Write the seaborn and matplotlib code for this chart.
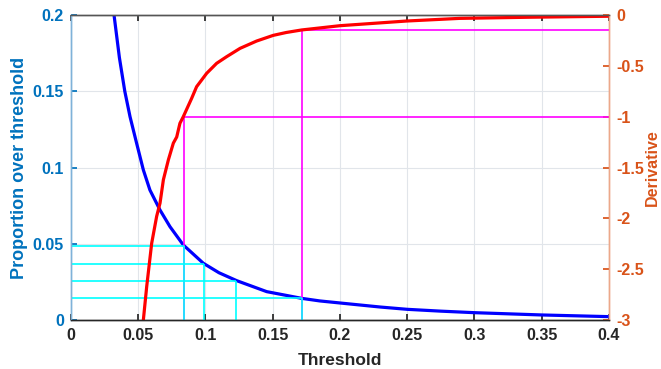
import matplotlib
matplotlib.use("Agg")
import matplotlib.pyplot as plt
import numpy as np
import seaborn as sns

# proportion of samples over the threshold (left axis)
thr_prop = [0.030, 0.032, 0.036, 0.040, 0.0439, 0.0488, 0.0538, 0.0587, 0.0662, 0.0736,
            0.0835, 0.0984, 0.110, 0.1232, 0.1455, 0.1715, 0.185, 0.2074, 0.230, 0.250,
            0.275, 0.300, 0.350, 0.400]
prop = [0.220, 0.200, 0.172, 0.150, 0.1333, 0.1159, 0.0984, 0.0852, 0.0721, 0.0612,
        0.0492, 0.0372, 0.0310, 0.0258, 0.0186, 0.0142, 0.0125, 0.0105, 0.0085, 0.0070,
        0.0058, 0.0048, 0.0033, 0.0022]

# derivative of the curve (right axis)
thr_deriv = [0.0538, 0.0563, 0.0600, 0.0637, 0.0662, 0.0687, 0.0724, 0.0761, 0.0786, 0.0810,
             0.0835, 0.0897, 0.0934, 0.1009, 0.1083, 0.1157, 0.1257, 0.1380, 0.1504, 0.1600,
             0.1715, 0.200, 0.2496, 0.289, 0.340, 0.400]
deriv = [-3.0, -2.67, -2.245, -1.98, -1.85, -1.62, -1.425, -1.26, -1.20, -1.065,
         -1.0, -0.82, -0.705, -0.573, -0.475, -0.41, -0.328, -0.256, -0.200, -0.172,
         -0.147, -0.105, -0.059, -0.033, -0.022, -0.012]

# marked thresholds
cyan_thr = [0.084, 0.099, 0.123, 0.172]
cyan_val = [0.0485, 0.037, 0.0256, 0.0142]
mag_thr = [0.084, 0.172]
mag_val = [-1.0, -0.147]

x_ticks = [0, 0.05, 0.1, 0.15, 0.2, 0.25, 0.3, 0.35, 0.4]
left_ticks = [0, 0.05, 0.1, 0.15, 0.2]
right_ticks = [-3, -2.5, -2, -1.5, -1, -0.5, 0]

sns.set_theme(style="ticks")
plt.rcParams['font.family'] = ['Liberation Sans', 'DejaVu Sans']
plt.rcParams['axes.unicode_minus'] = False

blue_c = '#0072BD'
orange_c = '#D95319'
dark = '#262626'

fig = plt.figure(figsize=(6.61, 3.69), dpi=100)
ax = fig.add_axes([0.1074, 0.1328, 0.8139, 0.8265])
ax2 = ax.twinx()

# left axis: proportion curve
sns.lineplot(x=thr_prop, y=prop, ax=ax, color='#0000FF', lw=2.3, estimator=None, sort=False)
ax.set_xlim(0, 0.4)
ax.set_ylim(0, 0.2)
ax.set_xticks(x_ticks)
ax.set_xticklabels(['%g' % v for v in x_ticks])
ax.set_yticks(left_ticks)
ax.set_yticklabels(['%g' % v for v in left_ticks])
ax.grid(True, color='#e1e5ea', lw=0.8)
ax.tick_params(axis='x', direction='in', length=4, colors=dark, labelsize=11.5, top=True, pad=6)
ax.tick_params(axis='y', direction='in', length=4, colors=blue_c, labelsize=11.5, pad=5)
for lab in ax.get_xticklabels() + ax.get_yticklabels():
    lab.set_fontweight('bold')
ax.set_xlabel('Threshold', fontsize=12.5, fontweight='bold', color=dark, labelpad=7)
ax.set_ylabel('Proportion over threshold', fontsize=13, fontweight='bold', color=blue_c)
ax.yaxis.set_label_coords(-0.080, 0.5)

# right axis: magenta markers, cyan markers (left-axis data), derivative curve
ax2.hlines(mag_val, mag_thr, 0.4, color='#FF00FF', lw=1.2)
ax2.vlines(mag_thr, -3, mag_val, color='#FF00FF', lw=1.2)
ax2.hlines(cyan_val, 0, cyan_thr, color='#00FFFF', lw=1.2, transform=ax.transData)
ax2.vlines(cyan_thr, 0, cyan_val, color='#00FFFF', lw=1.2, transform=ax.transData)
sns.lineplot(x=thr_deriv, y=deriv, ax=ax2, color='#FF0000', lw=2.3, estimator=None, sort=False)
ax2.set_ylim(-3, 0)
ax2.set_xlim(0, 0.4)
ax2.set_yticks(right_ticks)
ax2.set_yticklabels(['%g' % v for v in right_ticks])
ax2.tick_params(axis='y', direction='in', length=4, colors=orange_c, labelsize=11.5, pad=5)
for lab in ax2.get_yticklabels():
    lab.set_fontweight('bold')
ax2.set_ylabel('Derivative', fontsize=11.5, fontweight='bold', color=orange_c)
ax2.yaxis.set_label_coords(1.066, 0.5)

for a in (ax, ax2):
    a.spines['top'].set_color('#555555')
    a.spines['bottom'].set_color(dark)
    a.spines['left'].set_color('#7fb2d9')
    a.spines['right'].set_color('#eca88a')
    for s in a.spines.values():
        s.set_linewidth(1.0)
    a.spines['top'].set_visible(True)
    a.spines['right'].set_visible(True)

fig.savefig('out.png', dpi=100)
